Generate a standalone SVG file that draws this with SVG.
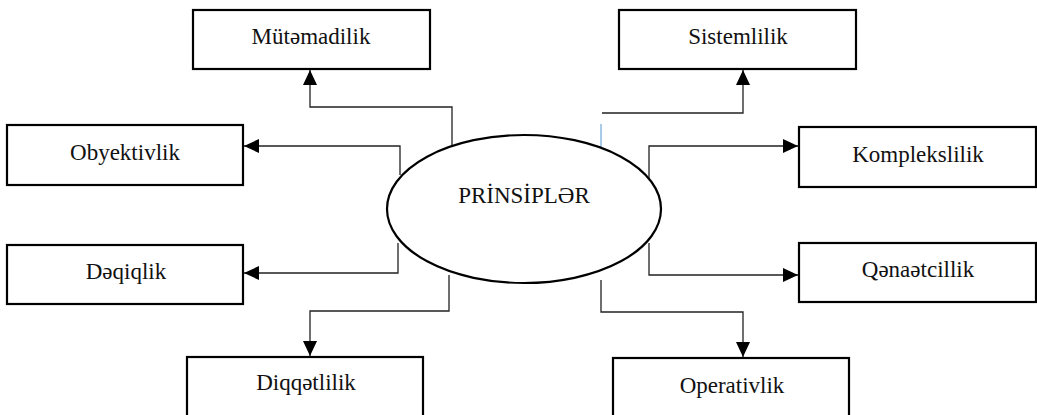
<svg xmlns="http://www.w3.org/2000/svg" width="1037" height="415" viewBox="0 0 1037 415">
  <style>
    .box { fill: #fff; stroke: #000; stroke-width: 2.2; }
    .hub { fill: #fff; stroke: #000; stroke-width: 2.2; }
    .lbl { font-family: 'Liberation Serif', 'Tinos', 'DejaVu Serif', serif; font-size: 23px; fill: #111; text-anchor: middle; }
    .wire { fill: none; stroke: #222; stroke-width: 1.3; }
    .tick { fill: none; stroke: #6fa8dc; stroke-width: 1.2; }
  </style>
  <defs>
    <marker id="arrowL" viewBox="0 0 15 14" refX="15" refY="7" markerWidth="15" markerHeight="14" markerUnits="userSpaceOnUse" orient="auto">
      <path d="M0,0 L15,7 L0,14 Z" fill="#000"/>
    </marker>
  </defs>

  <rect x="0" y="0" width="1037" height="415" fill="#fff"/>

  <!-- connectors from the central ellipse to each principle -->
  <g id="connectors">
    <polyline class="wire" points="452,146 452,107 310,107 310,70" marker-end="url(#arrowL)"/>
    <polyline class="wire" points="602,113 743,113 743,70" marker-end="url(#arrowL)"/>
    <polyline class="wire" points="400,175 400,146 244,146" marker-end="url(#arrowL)"/>
    <polyline class="wire" points="398,243 398,273 244,273" marker-end="url(#arrowL)"/>
    <polyline class="wire" points="649,180 649,146 798,146" marker-end="url(#arrowL)"/>
    <polyline class="wire" points="649,243 649,275 798,275" marker-end="url(#arrowL)"/>
    <polyline class="wire" points="449,275 449,311 310,311 310,356" marker-end="url(#arrowL)"/>
    <polyline class="wire" points="601,280 601,312 743,312 743,357" marker-end="url(#arrowL)"/>
    <line class="tick" x1="601" y1="124" x2="601" y2="150"/>
  </g>

  <g id="hub">
    <ellipse class="hub" cx="524" cy="209" rx="137" ry="74"/>
    <text class="lbl" x="524" y="203" font-family="Liberation Serif, serif">PRİNSİPLƏR</text>
  </g>

  <g id="node-mutemadilik">
    <rect class="box" x="193" y="10" width="237" height="59"/>
    <text class="lbl" x="311" y="44" font-family="Liberation Serif, serif">Mütəmadilik</text>
  </g>
  <g id="node-sistemlilik">
    <rect class="box" x="619" y="10" width="237" height="59"/>
    <text class="lbl" x="738" y="44" font-family="Liberation Serif, serif">Sistemlilik</text>
  </g>
  <g id="node-obyektivlik">
    <rect class="box" x="7" y="125" width="236" height="60"/>
    <text class="lbl" x="125" y="160" font-family="Liberation Serif, serif">Obyektivlik</text>
  </g>
  <g id="node-deqiqlik">
    <rect class="box" x="7" y="245" width="236" height="59"/>
    <text class="lbl" x="126" y="279" font-family="Liberation Serif, serif">Dəqiqlik</text>
  </g>
  <g id="node-komplekslilik">
    <rect class="box" x="799" y="127" width="237" height="60"/>
    <text class="lbl" x="918" y="162" font-family="Liberation Serif, serif">Komplekslilik</text>
  </g>
  <g id="node-qenaetcillik">
    <rect class="box" x="799" y="243" width="237" height="59"/>
    <text class="lbl" x="918" y="277" font-family="Liberation Serif, serif">Qənaətcillik</text>
  </g>
  <g id="node-diqqetlilik">
    <rect class="box" x="187" y="357" width="236" height="70"/>
    <text class="lbl" x="306" y="390" font-family="Liberation Serif, serif">Diqqətlilik</text>
  </g>
  <g id="node-operativlik">
    <rect class="box" x="613" y="358" width="236" height="70"/>
    <text class="lbl" x="732" y="393" font-family="Liberation Serif, serif">Operativlik</text>
  </g>
</svg>
